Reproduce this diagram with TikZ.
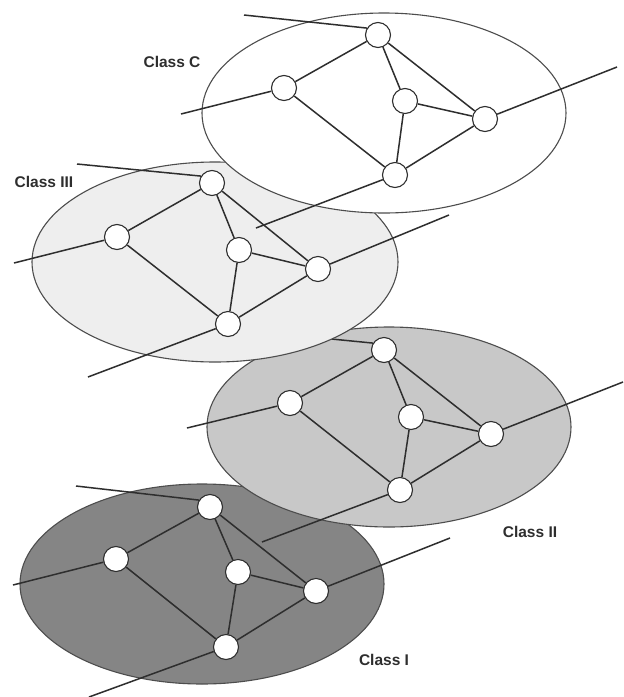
\documentclass[tikz,border=0pt]{standalone}
\usepackage{fontspec}
\setmainfont{Liberation Sans}
\definecolor{fillI}{HTML}{858585}
\definecolor{fillII}{HTML}{C8C8C8}
\definecolor{fillIII}{HTML}{EEEEEE}
\definecolor{ink}{HTML}{2E2E2E}
\begin{document}
\begin{tikzpicture}[x=1pt,y=-1pt,
  net/.style={line width=1.5pt, draw=ink},
  rim/.style={line width=1.1pt, draw=ink!85},
  site/.style={circle, draw=ink, line width=1.1pt, fill=white, minimum size=25pt, inner sep=0pt},
  lbl/.style={font=\bfseries\fontsize{15.5}{18}\selectfont, text=ink}]
\useasboundingbox (0,0) rectangle (624,697);
\fill[white] (0,0) rectangle (624,697);

% ---------- Class I ----------
\filldraw[rim, fill=fillI] (202,584) ellipse [x radius=182pt, y radius=100pt];
\node[site] (iT) at (210,507) {};
\node[site] (iL) at (116,559) {};
\node[site] (iM) at (238,572) {};
\node[site] (iR) at (316,591) {};
\node[site] (iB) at (226,647) {};
\coordinate (iTx) at (76,486);
\coordinate (iLx) at (13,585);
\coordinate (iRx) at (450,538);
\coordinate (iBx) at (89,697);
\draw[net] (iT) -- (iL) (iT) -- (iM) (iT) -- (iR) (iL) -- (iB) (iM) -- (iB) (iM) -- (iR) (iR) -- (iB);
\draw[net] (iT.148) -- (iTx) (iL) -- (iLx) (iR) -- (iRx) (iB) -- (iBx);

% ---------- Class II ----------
\filldraw[rim, fill=fillII] (389,427) ellipse [x radius=182pt, y radius=100pt];
\node[site] (bT) at (384,350) {};
\node[site] (bL) at (290,403) {};
\node[site] (bM) at (411,417) {};
\node[site] (bR) at (491,434) {};
\node[site] (bB) at (400,490) {};
\coordinate (bTx) at (250,331);
\coordinate (bLx) at (187,428);
\coordinate (bRx) at (623,382);
\coordinate (bBx) at (262,542);
\draw[net] (bT) -- (bL) (bT) -- (bM) (bT) -- (bR) (bL) -- (bB) (bM) -- (bB) (bM) -- (bR) (bR) -- (bB);
\draw[net] (bT.148) -- (bTx) (bL) -- (bLx) (bR) -- (bRx) (bB) -- (bBx);

% ---------- Class III ----------
\filldraw[rim, fill=fillIII] (215,262) ellipse [x radius=183pt, y radius=100pt];
\node[site] (cT) at (212,183) {};
\node[site] (cL) at (117,237) {};
\node[site] (cM) at (239,250) {};
\node[site] (cR) at (318,269) {};
\node[site] (cB) at (228,324) {};
\coordinate (cTx) at (77,164);
\coordinate (cLx) at (14,263);
\coordinate (cRx) at (449,215);
\coordinate (cBx) at (88,377);
\draw[net] (cT) -- (cL) (cT) -- (cM) (cT) -- (cR) (cL) -- (cB) (cM) -- (cB) (cM) -- (cR) (cR) -- (cB);
\draw[net] (cT.148) -- (cTx) (cL) -- (cLx) (cR) -- (cRx) (cB) -- (cBx);

% ---------- Class C ----------
\filldraw[rim, fill=white] (384,113) ellipse [x radius=182pt, y radius=100pt];
\node[site] (dT) at (378,35) {};
\node[site] (dL) at (284,88) {};
\node[site] (dM) at (405,101) {};
\node[site] (dR) at (485,119) {};
\node[site] (dB) at (395,175) {};
\coordinate (dTx) at (244,15);
\coordinate (dLx) at (181,114);
\coordinate (dRx) at (617,67);
\coordinate (dBx) at (256,228);
\draw[net] (dT) -- (dL) (dT) -- (dM) (dT) -- (dR) (dL) -- (dB) (dM) -- (dB) (dM) -- (dR) (dR) -- (dB);
\draw[net] (dT.148) -- (dTx) (dL) -- (dLx) (dR) -- (dRx) (dB) -- (dBx);

% ---------- labels ----------
\node[lbl] (lC) at (172,62) {Class C};
\node[lbl] (lIII) at (44,182) {Class III};
\node[lbl] (lII) at (530,532) {Class II};
\node[lbl] (lI) at (384,660) {Class I};
\end{tikzpicture}
\end{document}
